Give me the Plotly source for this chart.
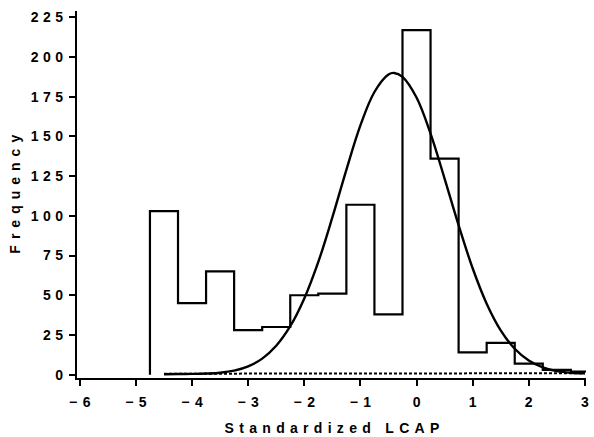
import plotly.graph_objects as go

# Histogram (bin width 0.5)
bin_edges = [-4.75, -4.25, -3.75, -3.25, -2.75, -2.25, -1.75, -1.25, -0.75,
             -0.25, 0.25, 0.75, 1.25, 1.75, 2.25, 2.75, 3.25]
counts = [103, 45, 65, 28, 30, 50, 51, 107, 38, 217, 136, 14, 20, 7, 3, 2]

# Fitted normal curve
curve_x = [-4.5, -4.25, -4.0, -3.75, -3.5, -3.25, -3.0, -2.75, -2.5, -2.25, -2.0,
           -1.75, -1.5, -1.25, -1.0, -0.75, -0.5, -0.4, -0.25, 0.0, 0.25, 0.5,
           0.75, 1.0, 1.25, 1.5, 1.75, 2.0, 2.25, 2.5, 2.75, 3.0]
curve_y = [0.3, 0.4, 0.5, 0.7, 1.2, 2.5, 5.2, 10.1, 18.2, 30.5, 48, 71, 99, 129,
           157, 178, 189, 190, 187.5, 174.5, 151.8, 123.5, 94.1, 67, 44.7, 27.9,
           16.3, 8.9, 4.6, 2.2, 1.2, 0.9]

# Dashed baseline curve
dash_x = [-4.5, 3.0]
dash_y = [0.6, 0.9]

x_ticks = [-6, -5, -4, -3, -2, -1, 0, 1, 2, 3]
y_ticks = [0, 25, 50, 75, 100, 125, 150, 175, 200, 225]

step_x = [bin_edges[0]] + bin_edges[:-1] + [bin_edges[-1]]
step_y = [0] + counts + [counts[-1]]

FONT = "Liberation Sans, Arial, sans-serif"

fig = go.Figure()
fig.add_trace(go.Scatter(x=dash_x, y=dash_y, mode="lines",
                         line=dict(color="black", width=2, dash="3px,2px"),
                         hoverinfo="skip"))
fig.add_trace(go.Scatter(x=step_x, y=step_y, mode="lines", line_shape="hv",
                         line=dict(color="black", width=2.2)))
fig.add_trace(go.Scatter(x=curve_x, y=curve_y, mode="lines", line_shape="spline",
                         line=dict(color="black", width=2.4)))

axis_common = dict(showline=True, linecolor="black", linewidth=2.2, ticks="outside",
                   ticklen=6, tickwidth=2, tickcolor="black", showgrid=False,
                   zeroline=False, tickfont=dict(family=FONT, size=14, color="black",
                                                 weight="bold"))
fig.update_xaxes(range=[-6.05, 3.02], tickvals=x_ticks, ticklabelstandoff=4, **axis_common)
fig.update_yaxes(range=[-2.1, 229], tickvals=y_ticks, ticklabelstandoff=3, **axis_common)

fig.update_layout(
    width=594, height=437,
    margin=dict(l=77, r=5, t=11, b=59),
    paper_bgcolor="white", plot_bgcolor="white",
    showlegend=False,
    font=dict(family=FONT, color="black"),
    annotations=[
        dict(text="Standardized LCAP", xref="x", yref="paper", x=-1.5, y=-0.135,
             xanchor="center", yanchor="middle", showarrow=False,
             font=dict(family=FONT, size=14, color="black", weight="bold")),
        dict(text="Frequency", xref="paper", yref="paper", x=-0.1235, y=0.5,
             xanchor="center", yanchor="middle", textangle=-90, showarrow=False,
             font=dict(family=FONT, size=14, color="black", weight="bold")),
    ],
)

post = """
document.body.style.margin = '0';
document.body.style.padding = '0';
var gd = document.getElementById('{plot_id}');
function sp(sel, s, anchorShift) {
  gd.querySelectorAll(sel).forEach(function(t) {
    t.style.letterSpacing = s + 'px';
    t.setAttribute('dx', anchorShift);
  });
}
sp('.xtick text', 5.5, 2.75);
sp('.ytick text', 4.5, 4.5);
var ann = gd.querySelectorAll('.annotation-text');
if (ann.length > 0) { ann[0].style.letterSpacing = '5.3px'; ann[0].setAttribute('dx', 2.65); }
if (ann.length > 1) { ann[1].style.letterSpacing = '6px'; ann[1].setAttribute('dx', 3); }
"""

fig.write_html("out.html", post_script=post, config={"displayModeBar": False})
